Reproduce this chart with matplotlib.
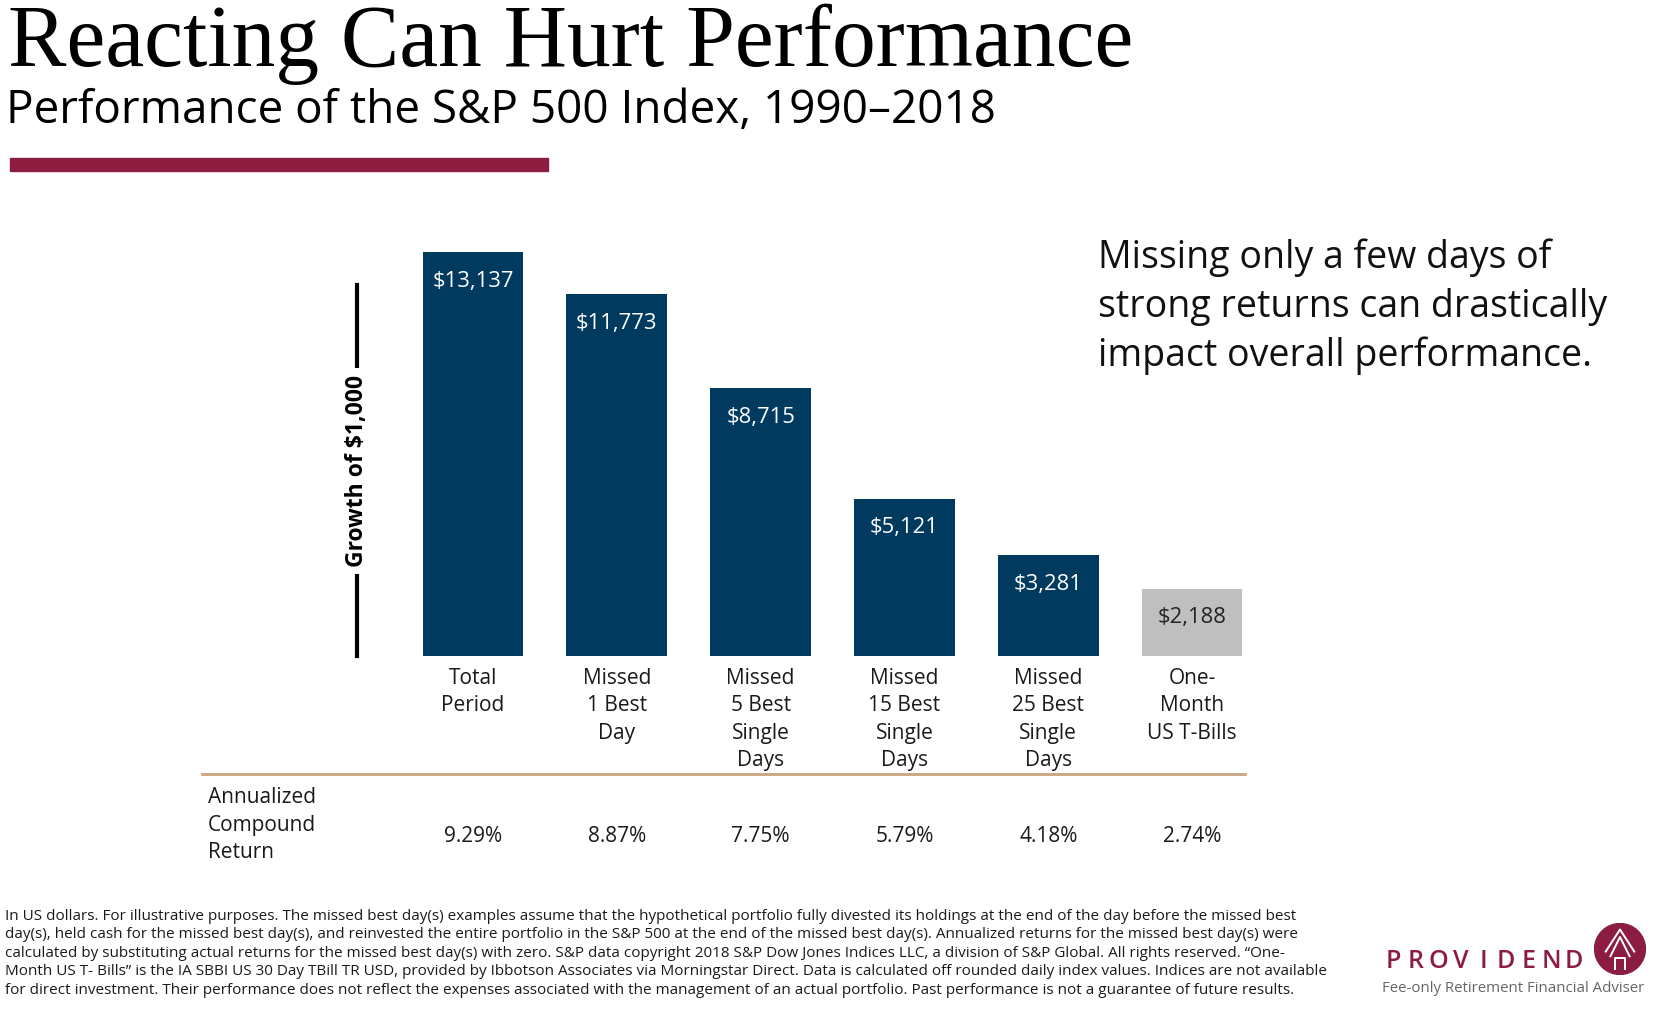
"""
Reacting Can Hurt Performance - S&P 500 growth of $1,000, 1990-2018
"""
import matplotlib
matplotlib.use("Agg")
import matplotlib.pyplot as plt
from matplotlib.lines import Line2D
from matplotlib.patches import Circle

plt.rcParams['font.family'] = ['Open Sans', 'DejaVu Sans']

# 数据
categories = ["Total\nPeriod", "Missed\n1 Best\nDay", "Missed\n5 Best\nSingle\nDays",
              "Missed\n15 Best\nSingle\nDays", "Missed\n25 Best\nSingle\nDays",
              "One-\nMonth\nUS T-Bills"]
growth = [13137, 11773, 8715, 5121, 3281, 2188]
growth_labels = ["$13,137", "$11,773", "$8,715", "$5,121", "$3,281", "$2,188"]
annualized = ["9.29%", "8.87%", "7.75%", "5.79%", "4.18%", "2.74%"]

NAVY = "#003A5F"
GRAY = "#BFBFBF"
MAROON = "#8C1D40"
TAN = "#C9A57E"

W, H = 1653, 1014


def fx(x):
    return x / W


def fy(y):
    # y 从顶部量起
    return 1 - y / H


fig = plt.figure(figsize=(W / 100, H / 100), dpi=100)

# 标题
fig.text(fx(8), fy(66), "Reacting Can Hurt Performance", fontsize=63,
         family=['Liberation Serif', 'DejaVu Serif'], va='baseline', ha='left')
fig.text(fx(6), fy(123), "Performance of the S&P 500 Index, 1990\u20132018", fontsize=33,
         va='baseline', ha='left')
fig.patches.append(plt.Rectangle((fx(10), fy(171)), fx(538), 13 / H,
                                 transform=fig.transFigure, color=MAROON))

# 柱状图区域
ax_left, ax_right = 400, 1265
ax = fig.add_axes([fx(ax_left), fy(656), fx(ax_right - ax_left), (656 - 220) / H])
xs = list(range(len(growth)))
colors = [NAVY] * 5 + [GRAY]
ax.bar(xs, growth, width=0.7, color=colors)
ax.set_ylim(0, 14180)
step = 143.8
ax.set_xlim((ax_left - 473) / step, (ax_right - 473) / step)
ax.axis('off')

for i, (v, lab) in enumerate(zip(growth, growth_labels)):
    ax.annotate(lab, (i, v), xytext=(0, -29), textcoords='offset pixels',
                ha='center', va='center', fontsize=15.8,
                color='white' if i < 5 else '#222222')
    ax.annotate(categories[i], (i, 0), xytext=(0, -12), textcoords='offset pixels',
                ha='center', va='top', fontsize=15, linespacing=1.4,
                color='#1a1a1a', annotation_clip=False)
    ax.annotate(annualized[i], (i, 0), xycoords=('data', 'figure pixels'),
                xytext=(i, H - 836), textcoords=('data', 'figure pixels'),
                ha='center', va='center', fontsize=15, color='#1a1a1a',
                annotation_clip=False)

# y轴说明
fig.add_artist(Line2D([fx(357), fx(357)], [fy(285), fy(656)], transform=fig.transFigure,
                      color='black', lw=3))
fig.text(fx(357), fy(471), "Growth of $1,000", rotation=90, ha='center', va='center',
         fontsize=16.5, fontweight='bold',
         bbox=dict(facecolor='white', edgecolor='none', pad=5))

# 分隔线
fig.add_artist(Line2D([fx(202), fx(1245)], [fy(774), fy(774)], transform=fig.transFigure,
                      color=TAN, lw=2))
fig.text(fx(208), fy(825), "Annualized\nCompound\nReturn", ha='left', va='center',
         fontsize=15, linespacing=1.4, color='#1a1a1a')

# 右侧说明文字
fig.text(fx(1098), fy(238), "Missing only a few days of\nstrong returns can drastically\n"
         "impact overall performance.", ha='left', va='top', fontsize=27,
         linespacing=1.38, color='#111111')

# 脚注
footnote = (
    "In US dollars. For illustrative purposes. The missed best day(s) examples assume that the "
    "hypothetical portfolio fully divested its holdings at the end of the day before the missed best\n"
    "day(s), held cash for the missed best day(s), and reinvested the entire portfolio in the S&P 500 "
    "at the end of the missed best day(s). Annualized returns for the missed best day(s) were\n"
    "calculated by substituting actual returns for the missed best day(s) with zero. S&P data copyright "
    "2018 S&P Dow Jones Indices LLC, a division of S&P Global. All rights reserved. \u201cOne-\n"
    "Month US T- Bills\u201d is the IA SBBI US 30 Day TBill TR USD, provided by Ibbotson Associates via "
    "Morningstar Direct. Data is calculated off rounded daily index values. Indices are not available\n"
    "for direct investment. Their performance does not reflect the expenses associated with the "
    "management of an actual portfolio. Past performance is not a guarantee of future results."
)
fig.text(fx(5), fy(909), footnote, ha='left', va='top', fontsize=10.95,
         linespacing=1.31, color='#1a1a1a')

# 标志
for k, ch in enumerate("PROVIDEND"):
    fig.text(fx(1393 + k * 22.6), fy(961), ch, ha='center', va='center', fontsize=18,
             color=MAROON, fontweight='semibold')
fig.text(fx(1382), fy(988), "Fee-only Retirement Financial Adviser", ha='left',
         va='center', fontsize=10.8, color='#666666')
logo_ax = fig.add_axes([fx(1594), fy(975), 52 / W, 52 / H])
logo_ax.set_xlim(-1, 1)
logo_ax.set_ylim(-1, 1)
logo_ax.set_aspect('equal')
logo_ax.axis('off')
logo_ax.add_patch(Circle((0, 0), 0.98, color=MAROON))
for off in (0.0, 0.18):
    logo_ax.plot([-0.55 + off, 0, 0.55 - off], [-0.1 - off, 0.75 - off * 1.6, -0.1 - off],
                 color='white', lw=1.4)
logo_ax.plot([-0.2, -0.2, 0.2, 0.2], [-0.75, -0.35, -0.35, -0.75], color='white', lw=1.4)

fig.savefig("out.png", dpi=100)
